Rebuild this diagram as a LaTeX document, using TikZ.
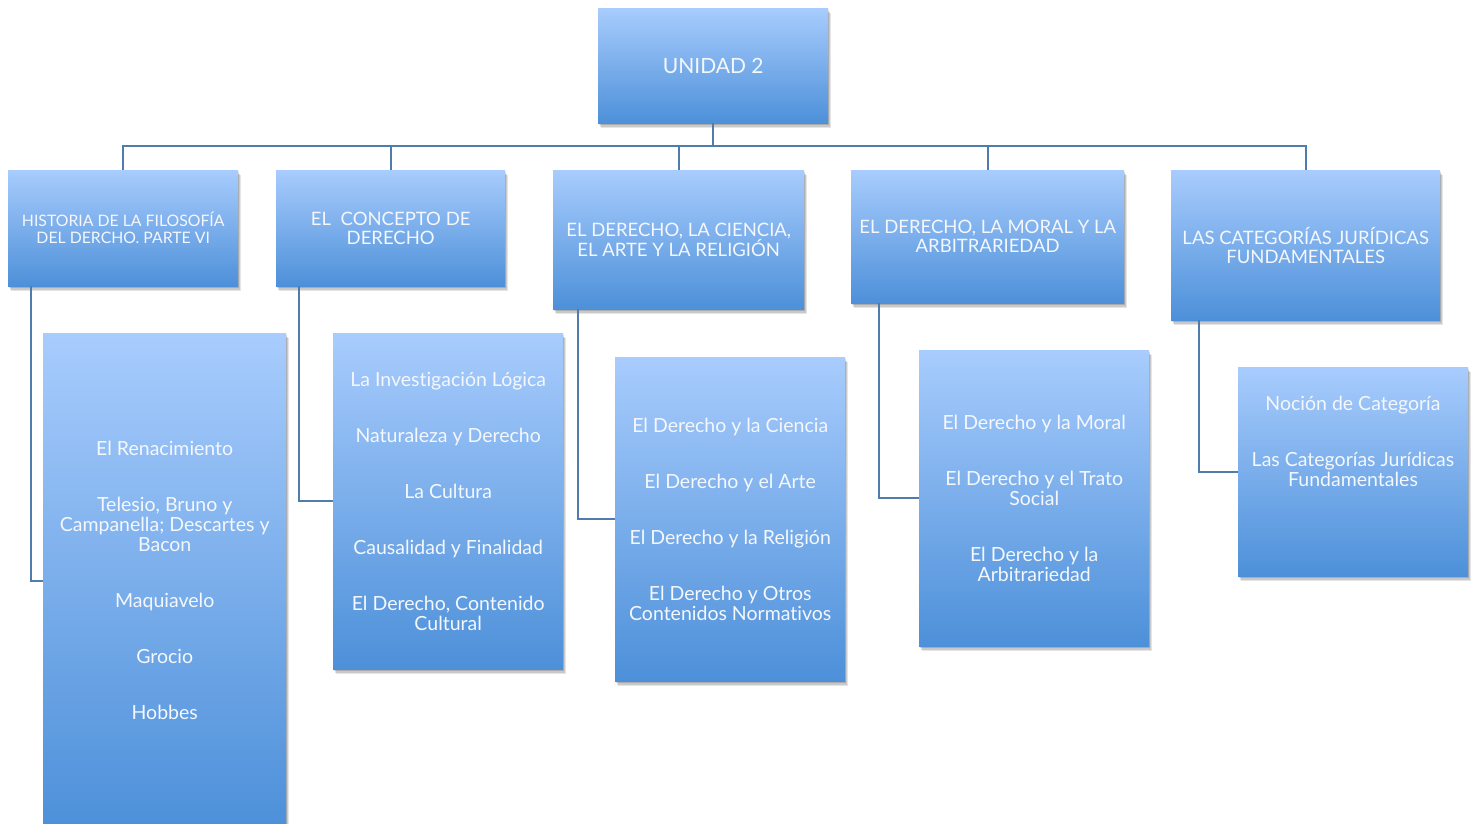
\documentclass[tikz,border=0pt]{standalone}
\usepackage{fontspec}
\setmainfont{Lato}[Ligatures={NoCommon}]
\usetikzlibrary{shadows}
\definecolor{boxtop}{HTML}{A8CCFD}
\definecolor{boxbot}{HTML}{4D90D9}
\definecolor{linec}{HTML}{4F7CAC}
\definecolor{txt}{HTML}{F4F7FC}
\tikzset{
  box/.style={anchor=north west, inner sep=0pt, draw=none,
    top color=boxtop, bottom color=boxbot, text=txt, align=center,
    drop shadow={shadow xshift=3pt, shadow yshift=-5pt, opacity=0.10, fill=black},
    drop shadow={shadow xshift=2pt, shadow yshift=-4pt, opacity=0.12, fill=black},
    drop shadow={shadow xshift=1pt, shadow yshift=-2pt, opacity=0.15, fill=black}},
  head/.style={font=\fontsize{18.5}{19}\selectfont},
  item/.style={font=\fontsize{19.5}{20}\selectfont},
  conn/.style={draw=linec, line width=2pt},
}
\begin{document}
\begin{tikzpicture}[x=1pt,y=-1pt]
\useasboundingbox (0,0) rectangle (1477,823);
% root
\node[box, minimum width=230pt, minimum height=115pt, font=\fontsize{21}{24}\selectfont] (root) at (598,8) {UNIDAD 2};
% level 1
\node[box, minimum width=230pt, minimum height=116pt, font=\fontsize{15.8}{17}\selectfont] (A) at (8,170) {HISTORIA DE LA FILOSOFÍA\\DEL DERCHO. PARTE VI};
\node[box, head, minimum width=229pt, minimum height=116pt] (B) at (276,170) {EL\ \ CONCEPTO DE\\DERECHO};
\node[box, head, minimum width=251pt, minimum height=139pt] (C) at (553,170) {EL DERECHO, LA CIENCIA,\\EL ARTE Y LA RELIGIÓN};
\node[box, head, minimum width=273pt, minimum height=133pt] (D) at (851,170) {EL DERECHO, LA MORAL Y LA\\ARBITRARIEDAD};
\node[box, head, minimum width=269pt, minimum height=150pt] (E) at (1171,170) {LAS CATEGORÍAS JURÍDICAS\\FUNDAMENTALES};
% children
\node[box, item, minimum width=243pt, minimum height=495pt] (Ac) at (43,333) {El Renacimiento\\[36pt]Telesio, Bruno y\\Campanella; Descartes y\\Bacon\\[36pt]Maquiavelo\\[36pt]Grocio\\[36pt]Hobbes};
\node[box, item, minimum width=230pt, minimum height=336pt] (Bc) at (333,333) {La Investigación Lógica\\[36pt]Naturaleza y Derecho\\[36pt]La Cultura\\[36pt]Causalidad y Finalidad\\[36pt]El Derecho, Contenido\\Cultural};
\node[box, item, minimum width=230pt, minimum height=324pt] (Cc) at (615,357) {El Derecho y la Ciencia\\[36pt]El Derecho y el Arte\\[36pt]El Derecho y la Religión\\[36pt]El Derecho y Otros\\Contenidos Normativos};
\node[box, item, minimum width=230pt, minimum height=296pt] (Dc) at (919,350) {El Derecho y la Moral\\[36pt]El Derecho y el Trato\\Social\\[36pt]El Derecho y la\\Arbitrariedad};
\node[box, minimum width=230pt, minimum height=209pt] (Ec) at (1238,367) {};
\node[item, text=txt, align=center] (Ect) at (1353,441) {Noción de Categoría\\[36pt]Las Categorías Jurídicas\\Fundamentales};
% connectors
\foreach \n in {A,B,C,D,E}{
  \draw[conn] (root.south) -- ++(0,23) -| (\n.north);
}
\draw[conn] ([xshift=23pt]A.south west) |- (Ac.west);
\draw[conn] ([xshift=23pt]B.south west) |- (Bc.west);
\draw[conn] ([xshift=25pt]C.south west) |- (Cc.west);
\draw[conn] ([xshift=28pt]D.south west) |- (Dc.west);
\draw[conn] ([xshift=28pt]E.south west) |- (Ec.west);
\end{tikzpicture}
\end{document}
